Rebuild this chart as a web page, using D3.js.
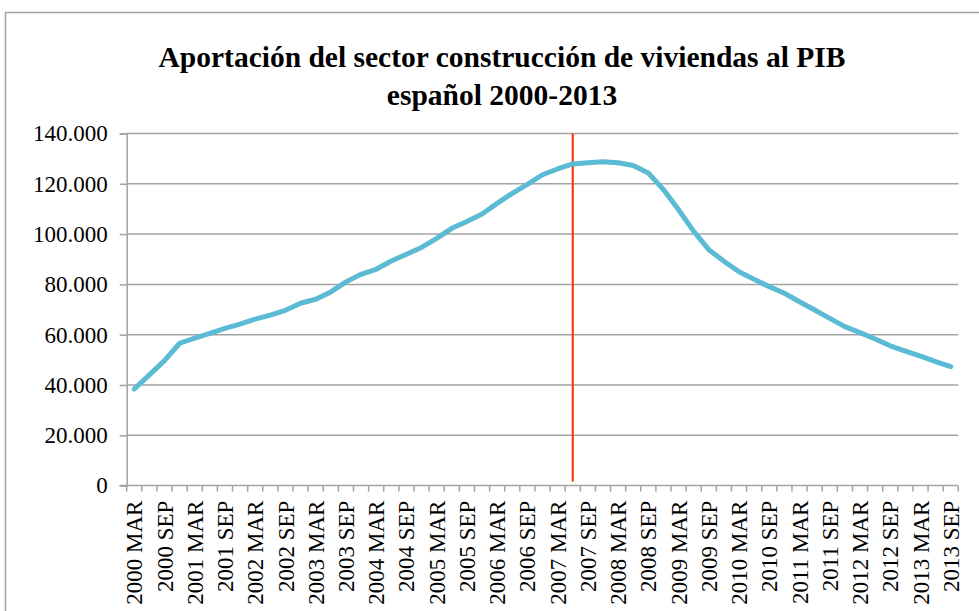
<!DOCTYPE html>
<html>
<head>
<meta charset="utf-8">
<script src="https://cdn.jsdelivr.net/npm/d3@7"></script>
<style>
  html, body { margin: 0; padding: 0; background: #ffffff; }
  svg { display: block; }
  svg text { font-family: "Liberation Serif", Tinos, "Times New Roman", Times, "DejaVu Serif", serif !important; fill: #000; }
</style>
</head>
<body>
<svg id="chart" width="979" height="611"></svg>
<script>
const titleLines = ["Aportación del sector construcción de viviendas al PIB", "español 2000-2013"];

const quarters = [
  "2000 MAR","2000 JUN","2000 SEP","2000 DIC",
  "2001 MAR","2001 JUN","2001 SEP","2001 DIC",
  "2002 MAR","2002 JUN","2002 SEP","2002 DIC",
  "2003 MAR","2003 JUN","2003 SEP","2003 DIC",
  "2004 MAR","2004 JUN","2004 SEP","2004 DIC",
  "2005 MAR","2005 JUN","2005 SEP","2005 DIC",
  "2006 MAR","2006 JUN","2006 SEP","2006 DIC",
  "2007 MAR","2007 JUN","2007 SEP","2007 DIC",
  "2008 MAR","2008 JUN","2008 SEP","2008 DIC",
  "2009 MAR","2009 JUN","2009 SEP","2009 DIC",
  "2010 MAR","2010 JUN","2010 SEP","2010 DIC",
  "2011 MAR","2011 JUN","2011 SEP","2011 DIC",
  "2012 MAR","2012 JUN","2012 SEP","2012 DIC",
  "2013 MAR","2013 JUN","2013 SEP"
];

const values = [
  38400, 44000, 49700, 56600, 58600, 60500, 62500, 64200, 66200, 67800,
  69700, 72500, 74100, 77000, 81000, 84000, 86000, 89300, 92000, 94700,
  98300, 102300, 105000, 108000, 112200, 116200, 119800, 123600, 125900, 127900,
  128400, 128800, 128400, 127300, 124300, 117700, 109700, 101100, 93800, 89200,
  85000, 82000, 79100, 76500, 73100, 69800, 66500, 63200, 60800, 58300,
  55600, 53500, 51500, 49300, 47300
];

const xTickLabels = [
  "2000 MAR","2000 SEP","2001 MAR","2001 SEP","2002 MAR","2002 SEP","2003 MAR","2003 SEP",
  "2004 MAR","2004 SEP","2005 MAR","2005 SEP","2006 MAR","2006 SEP","2007 MAR","2007 SEP",
  "2008 MAR","2008 SEP","2009 MAR","2009 SEP","2010 MAR","2010 SEP","2011 MAR","2011 SEP",
  "2012 MAR","2012 SEP","2013 MAR","2013 SEP"
];

const yTicks = [0, 20000, 40000, 60000, 80000, 100000, 120000, 140000];
const markerQuarter = "2007 JUN";

const plot = { left: 126.7, right: 958.3, top: 133.5, bottom: 485.6 };
const gray = "#a3a3a3";
const lineColor = "#5bbad4";
const serif = "'Liberation Serif', Tinos, 'Times New Roman', Times, 'DejaVu Serif', serif";

const svg = d3.select("#chart");

// outer chart border
svg.append("rect")
  .attr("x", 5.5).attr("y", 12.5)
  .attr("width", 1000).attr("height", 700)
  .attr("fill", "none").attr("stroke", gray).attr("stroke-width", 1.5);

// title
const title = svg.append("text")
  .attr("text-anchor", "middle")
  .attr("font-family", serif)
  .style("font-size", "29.5px").style("font-weight", "bold");
titleLines.forEach((t, i) => {
  title.append("tspan").attr("x", 502).attr("y", 67 + i * 37.5).text(t);
});

const x = d3.scaleBand().domain(quarters).range([plot.left, plot.right]).paddingInner(0).paddingOuter(0);
const y = d3.scaleLinear().domain([0, 140000]).range([plot.bottom, plot.top]);
const cx = q => x(q) + x.bandwidth() / 2;

const fmt = v => v === 0 ? "0" : d3.format(",")(v).replace(/,/g, ".");

// gridlines
svg.append("g").selectAll("line").data(yTicks.filter(v => v > 0)).join("line")
  .attr("x1", plot.left).attr("x2", plot.right)
  .attr("y1", d => y(d)).attr("y2", d => y(d))
  .attr("stroke", gray).attr("stroke-width", 1.5);

// y axis
const yAxis = svg.append("g")
  .attr("transform", `translate(${plot.left},0)`)
  .call(d3.axisLeft(y).tickValues(yTicks).tickFormat(fmt).tickSize(7).tickPadding(12));
yAxis.attr("font-family", serif);
yAxis.select(".domain").attr("stroke", gray).attr("stroke-width", 1.5);
yAxis.selectAll(".tick line").attr("stroke", gray).attr("stroke-width", 1.5);
yAxis.selectAll(".tick text").style("font-size", "23px").attr("fill", "#000");

// x axis line
svg.append("line")
  .attr("x1", plot.left - 7).attr("x2", plot.right)
  .attr("y1", plot.bottom).attr("y2", plot.bottom)
  .attr("stroke", gray).attr("stroke-width", 1.5);

// x ticks at category boundaries
const boundaries = quarters.map(q => x(q)).concat([x(quarters[quarters.length - 1]) + x.bandwidth()]);
svg.append("g").selectAll("line").data(boundaries).join("line")
  .attr("x1", d => d).attr("x2", d => d)
  .attr("y1", plot.bottom).attr("y2", plot.bottom + 6)
  .attr("stroke", gray).attr("stroke-width", 1.5);

// x tick labels
svg.append("g").attr("font-family", serif).selectAll("text").data(xTickLabels).join("text")
  .attr("transform", d => `translate(${cx(d)},${plot.bottom + 15}) rotate(-90)`)
  .attr("text-anchor", "end")
  .attr("dy", "0.35em")
  .style("font-size", "23px")
  .text(d => d);

// marker line
svg.append("line")
  .attr("x1", cx(markerQuarter)).attr("x2", cx(markerQuarter))
  .attr("y1", y(140000)).attr("y2", plot.bottom - 4)
  .attr("stroke", "#ff2a00").attr("stroke-width", 2);

// data line
const line = d3.line().x((d, i) => cx(quarters[i])).y(d => y(d));
svg.append("path")
  .datum(values)
  .attr("d", line)
  .attr("fill", "none")
  .attr("stroke", lineColor)
  .attr("stroke-width", 5)
  .attr("stroke-linejoin", "round")
  .attr("stroke-linecap", "round");
</script>
</body>
</html>
